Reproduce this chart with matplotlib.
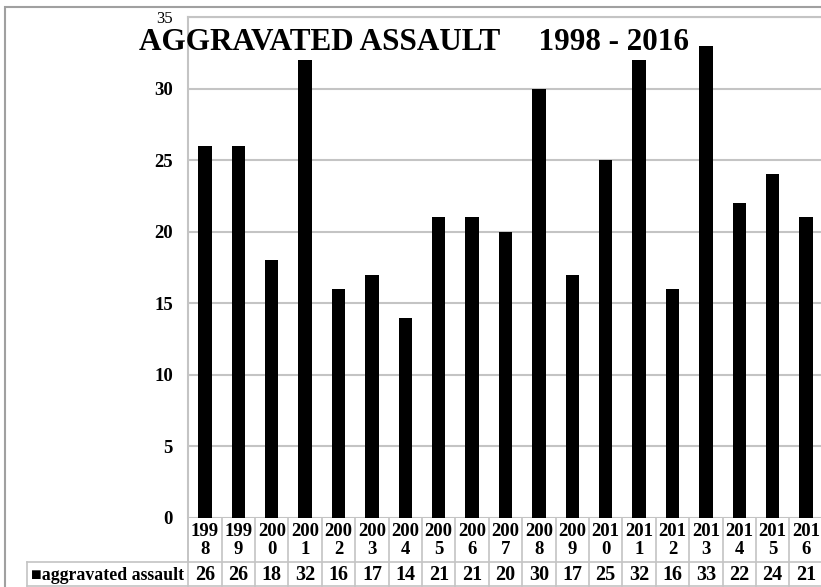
import matplotlib
matplotlib.use("Agg")
import matplotlib.pyplot as plt
from matplotlib.transforms import blended_transform_factory
from matplotlib.lines import Line2D
from matplotlib.patches import Rectangle

# data
years = ["1998", "1999", "2000", "2001", "2002", "2003", "2004", "2005", "2006", "2007",
         "2008", "2009", "2010", "2011", "2012", "2013", "2014", "2015", "2016"]
counts = [26, 26, 18, 32, 16, 17, 14, 21, 21, 20, 30, 17, 25, 32, 16, 33, 22, 24, 21]
yticks = [0, 5, 10, 15, 20, 25, 30, 35]
series_name = "aggravated assault"

W, H = 821, 587
font = "Liberation Serif"
grid_color = "#c4c4c4"

fig = plt.figure(figsize=(W / 100, H / 100), dpi=100)

def fx(px):
    return px / W

def fy(py):
    return 1 - py / H

# plot area (pixel box)
left, right, top, bottom = 188.3, 822.7, 17, 518
ax = fig.add_axes([fx(left), fy(bottom), fx(right - left), (bottom - top) / H])

x = range(len(years))
ax.bar(x, counts, width=0.4, color="black", zorder=3)
ax.set_xlim(-0.5, len(years) - 0.5)
ax.set_ylim(0, 35)
ax.set_yticks(yticks)
ax.set_yticklabels([str(t) for t in yticks], fontfamily=font, fontweight="bold", fontsize=13.5)
ax.get_yticklabels()[-1].set_fontweight("normal")
ax.get_yticklabels()[-1].set_fontsize(12)
ax.tick_params(axis="y", length=0, pad=11)
ax.set_xticks([])
ax.yaxis.grid(True, color=grid_color, linewidth=1.5, zorder=0)
for s in ["right", "bottom"]:
    ax.spines[s].set_visible(False)
ax.spines["left"].set_color(grid_color)
ax.spines["top"].set_color(grid_color)
ax.spines["left"].set_linewidth(1.5)
ax.spines["top"].set_linewidth(1.5)

# data table below the plot
tr = blended_transform_factory(ax.transData, fig.transFigure)
row_split, table_bottom = 562, 586
for i in range(len(years) + 1):
    ax.add_line(Line2D([i - 0.5, i - 0.5], [fy(bottom), fy(table_bottom)], transform=tr,
                       color=grid_color, linewidth=1.2, clip_on=False))
for i, (yr, c) in enumerate(zip(years, counts)):
    ax.text(i, fy(532), yr[:3], transform=tr, ha="center", va="center",
            fontfamily=font, fontweight="bold", fontsize=13.5)
    ax.text(i, fy(549), yr[3:], transform=tr, ha="center", va="center",
            fontfamily=font, fontweight="bold", fontsize=13.5)
    ax.text(i, fy(575), str(c), transform=tr, ha="center", va="center",
            fontfamily=font, fontweight="bold", fontsize=14.5)

fig.add_artist(Line2D([fx(27), 1], [fy(row_split), fy(row_split)], color=grid_color, linewidth=1.2))
fig.add_artist(Line2D([fx(27), 1], [fy(table_bottom), fy(table_bottom)], color=grid_color, linewidth=1.2))
fig.add_artist(Line2D([fx(27), fx(27)], [fy(row_split), fy(table_bottom)], color=grid_color, linewidth=1.2))
fig.add_artist(Line2D([fx(left), fx(left)], [fy(bottom), fy(row_split)], color=grid_color, linewidth=1.2))
fig.text(fx(184), fy(575), "\u25a0" + series_name, ha="right", va="center",
         fontfamily=[font, "DejaVu Sans"], fontweight="bold", fontsize=12.8)

# outer chart border
fig.add_artist(Rectangle((fx(5), fy(H + 5)), 1.2, fy(7) - fy(H + 5), fill=False,
                         edgecolor="#a0a0a0", linewidth=1.5))

fig.text(fx(139), fy(42), "AGGRAVATED ASSAULT     1998 - 2016", ha="left", va="center",
         fontfamily=font, fontweight="bold", fontsize=22.4)

fig.savefig("out.png", dpi=100)
